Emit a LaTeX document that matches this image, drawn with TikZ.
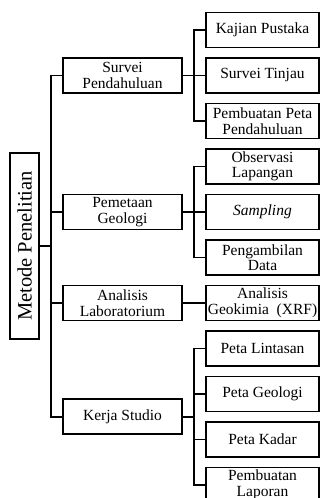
\documentclass[tikz,border=0pt]{standalone}
\usepackage{fontspec}
\setmainfont{Liberation Serif}
\usepackage{graphicx}
\usepackage{tikz}
\usetikzlibrary{positioning, calc}

\begin{document}
\begin{tikzpicture}[
    x=1pt, y=1pt,
    node distance=8.6pt and 22.6pt,
    box/.style={rectangle, draw, line width=1.9pt, minimum width=112.8pt, minimum height=35pt, align=center, inner sep=1pt, font=\fontsize{15.5}{15.5}\selectfont},
    group/.style={box, minimum width=118.2pt},
    link/.style={line width=1.9pt}
]
    \useasboundingbox (0,0) rectangle (321,-498);

    % Sub-steps
    \node[box] (kajian) at (262.5,-30) {Kajian Pustaka};
    \node[box, below=of kajian] (tinjau) {Survei Tinjau};
    \node[box, below=of tinjau] (petapend) {Pembuatan Peta\\Pendahuluan};
    \node[box, below=of petapend] (observasi) {Observasi\\Lapangan};
    \node[box, below=of observasi] (sampling) {\textit{Sampling}};
    \node[box, below=of sampling] (pengambilan) {Pengambilan\\Data};
    \node[box, below=of pengambilan] (geokimia) {Analisis\\Geokimia~~(XRF)};
    \node[box, below=of geokimia] (lintasan) {Peta Lintasan};
    \node[box, below=of lintasan] (geologi) {Peta Geologi};
    \node[box, below=of geologi] (kadar) {Peta Kadar};
    \node[box, below=of kadar] (laporan) {Pembuatan\\Laporan};

    % Main steps
    \node[group, left=of tinjau] (survei) {Survei\\Pendahuluan};
    \node[group, left=of sampling] (pemetaan) {Pemetaan\\Geologi};
    \node[group, left=of geokimia] (analisis) {Analisis\\Laboratorium};
    \coordinate (studiomid) at ($(geologi.west)!0.5!(kadar.west)$);
    \node[group, anchor=east] (studio) at ([xshift=-22.6pt]studiomid) {Kerja Studio};

    % Method
    \node[box, minimum width=28.2pt, minimum height=186pt, inner sep=0pt] (metode) at (24.5,-246)
        {\rotatebox{90}{\fontsize{20.5}{20.5}\selectfont Metode Penelitian}};

    % Connectors
    \draw[link] (metode.east) -- ++(11pt,0) coordinate (hub);
    \foreach \n in {survei, pemetaan, analisis, studio}
        \draw[link] (\n.west) -| (hub);

    \draw[link] (survei.east) -- ++(11.3pt,0) coordinate (hubA);
    \foreach \n in {kajian, tinjau, petapend}
        \draw[link] (\n.west) -| (hubA);

    \draw[link] (pemetaan.east) -- ++(11.3pt,0) coordinate (hubB);
    \foreach \n in {observasi, sampling, pengambilan}
        \draw[link] (\n.west) -| (hubB);

    \draw[link] (analisis.east) -- (geokimia.west);

    \draw[link] (studio.east) -- ++(11.3pt,0) coordinate (hubC);
    \foreach \n in {lintasan, geologi, kadar, laporan}
        \draw[link] (\n.west) -| (hubC);
\end{tikzpicture}
\end{document}
